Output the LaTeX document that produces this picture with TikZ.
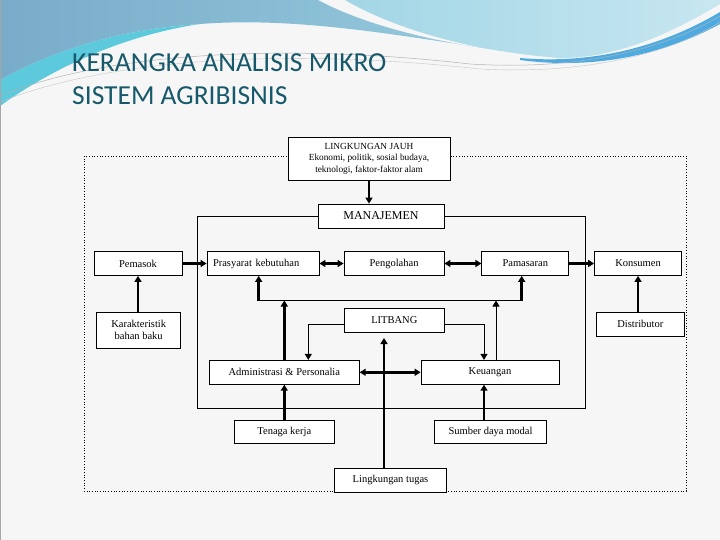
\documentclass[tikz,border=0pt]{standalone}
\usepackage{fontspec}
\setmainfont{Liberation Serif}
\newfontfamily\titlefont{Carlito}
\usetikzlibrary{arrows.meta}
\definecolor{slidebg}{HTML}{F6F6F6}
\definecolor{titleteal}{HTML}{17596A}
\definecolor{wavesteel}{HTML}{78ACC9}
\definecolor{wavelight}{HTML}{A2D6E6}
\definecolor{wavecyan}{HTML}{5CC9DC}
\tikzset{
 box/.style 2 args={draw,fill=white,line width=.8pt,minimum width=#1pt,minimum height=#2pt,inner sep=1pt,font=\fontsize{10.5}{12}\selectfont},
 flow/.style={line width=2.7pt,-{Triangle[length=6pt,width=7pt]}},
 flows/.style={line width=2.7pt,{Triangle[length=6pt,width=7pt]}-{Triangle[length=6pt,width=7pt]}},
 link/.style={line width=1pt,-{Triangle[length=6pt,width=7pt]}},
}
\begin{document}
\begin{tikzpicture}[x=1pt,y=-1pt]
 \useasboundingbox (0,0) rectangle (720,540);
 \fill[slidebg] (0,0) rectangle (720,540);
 % header waves
 \shade[left color=wavesteel,right color=wavelight!80!wavesteel] (0,0)--(318,0) .. controls (370,28) and (460,50) .. (560,56) .. controls (470,52) and (330,14) .. (200,24) .. controls (110,30) and (45,55) .. (0,80)--cycle;
 \shade[left color=wavelight,right color=wavelight!60!white] (345,0)--(720,0)--(720,4) .. controls (660,40) and (610,58) .. (560,58) .. controls (480,52) and (400,32) .. (345,0)--cycle;
 \fill[wavecyan] (0,80) .. controls (45,55) and (110,30) .. (200,24) .. controls (120,36) and (50,70) .. (0,106)--cycle;
 \fill[wavecyan!85!blue] (520,58) .. controls (610,66) and (680,36) .. (720,12)--(720,24) .. controls (680,46) and (610,72) .. (520,60)--cycle;
 \draw[gray!60,line width=.5pt] (0,96) .. controls (90,58) and (260,40) .. (470,64) .. controls (600,72) and (680,40) .. (720,16);
 \draw[gray!45,line width=.4pt] (0,102) .. controls (100,62) and (270,46) .. (480,69) .. controls (610,76) and (690,42) .. (720,22);
 \draw[gray!70,line width=1pt] (0,0) rectangle (720,540);
 \node[anchor=base west,inner sep=0pt,text=titleteal,font=\titlefont\fontsize{27.5}{33}\selectfont] (title) at (72,72) {KERANGKA ANALISIS MIKRO};
 \node[anchor=base west,inner sep=0pt,text=titleteal,font=\titlefont\fontsize{27.5}{33}\selectfont] (title2) at (72,105) {SISTEM AGRIBISNIS};

 % frames
 \draw[dotted,line width=.7pt] (84,156) rectangle (686,491);
 \coordinate (frametl) at (197,216);
 \coordinate (framebr) at (585,408);
 \draw[line width=.9pt] (frametl) rectangle (framebr);

 % nodes
 \node[box={162}{43},align=center,font=\fontsize{9.3}{11.5}\selectfont] (jauh) at (369,158.5) {LINGKUNGAN JAUH\\Ekonomi, politik, sosial budaya,\\teknologi, faktor-faktor alam};
 \node[box={126}{24},font=\fontsize{12}{14}\selectfont] (manajemen) at (381,216) {MANAJEMEN};
 \node[box={88}{24}] (pemasok) at (138,263.5) {Pemasok};
 \node[box={112}{24},text width=100pt,align=left] (prasyarat) at (263,263.5) {Prasyarat kebutuhan};
 \node[box={100}{24}] (pengolahan) at (394,263.5) {Pengolahan};
 \node[box={87}{24}] (pamasaran) at (525.3,263.5) {Pamasaran};
 \node[box={87}{24}] (konsumen) at (638,263.5) {Konsumen};
 \node[box={84}{36},align=center] (karakteristik) at (138.7,330.3) {Karakteristik\\bahan baku};
 \node[box={100}{24}] (litbang) at (394.3,320) {LITBANG};
 \node[box={88}{24}] (distributor) at (640.3,324) {Distributor};
 \node[box={150}{24}] (admin) at (284.3,372.3) {Administrasi \& Personalia};
 \node[box={138}{24}] (keuangan) at (490,372.3) {Keuangan};
 \node[box={100}{23}] (tenaga) at (284.3,432.3) {Tenaga kerja};
 \node[box={112}{23}] (sumber) at (490.5,432.3) {Sumber daya modal};
 \node[box={112}{24}] (tugas) at (390.5,480.3) {Lingkungan tugas};

 % bus between admin/keuangan and the chain
 \coordinate (busl) at (258.7,300.5);
 \coordinate (busr) at (521.7,300.5);
 \coordinate (tugasup) at (384,338);

 % connectors
 \draw[flow] (jauh.south) -- (jauh.south |- manajemen.north);
 \draw[line width=.9pt] (manajemen.west) -- (frametl);
 \draw[line width=.9pt] (manajemen.east) -- (manajemen.east -| framebr);
 \draw[flow] (pemasok) -- (prasyarat);
 \draw[flows] (prasyarat) -- (pengolahan);
 \draw[flows] (pengolahan) -- (pamasaran);
 \draw[flow] (pamasaran) -- (konsumen);
 \draw[flow] (karakteristik.north -| pemasok.south) -- (pemasok.south);
 \draw[flow] (distributor.north -| konsumen.south) -- (konsumen.south);
 \draw[line width=1.6pt] (busl) -- (busr);
 \draw[flow] (busl) -- (busl |- prasyarat.south);
 \draw[flow] (busr) -- (busr |- pamasaran.south);
 \draw[flow] (admin.north) -- (admin.north |- busl);
 \draw[link] ([xshift=6pt]keuangan.north) -- ([xshift=6pt]keuangan.north |- busr);
 \draw[link] ([yshift=-4pt]litbang.west) -| ([xshift=24pt]admin.north);
 \draw[link] ([yshift=-4pt]litbang.east) -| ([xshift=-6pt]keuangan.north);
 \draw[flows] (admin) -- (keuangan);
 \draw[flow] (tugas.north -| tugasup) -- (tugasup);
 \draw[flow] (tenaga) -- (admin);
 \draw[flow] ([xshift=-6.5pt]sumber.north) -- ([xshift=-6.5pt]sumber.north |- keuangan.south);
\end{tikzpicture}
\end{document}
